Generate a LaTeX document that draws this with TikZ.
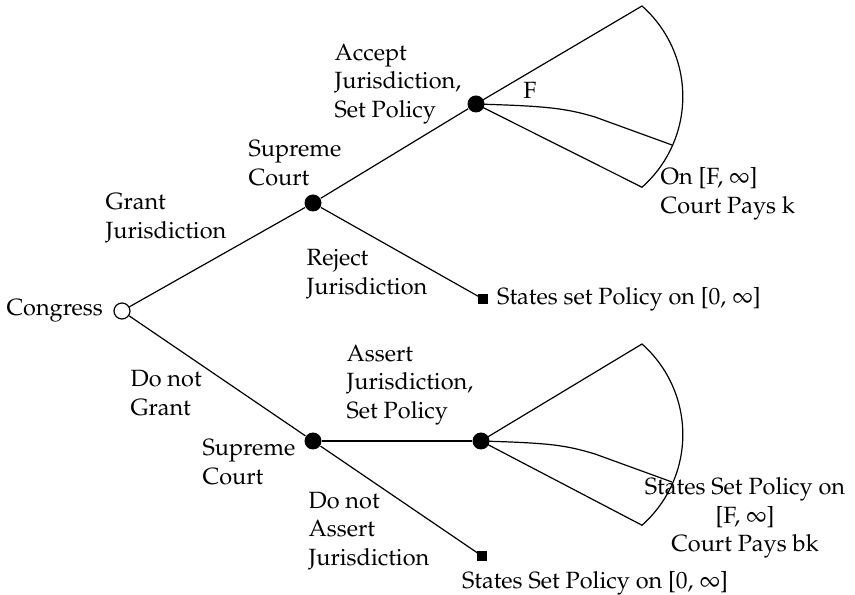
\documentclass[tikz,border=0pt]{standalone}
\usepackage[T1]{fontenc}
\usepackage{mathpazo}
\usetikzlibrary{positioning}

\tikzset{
  decision/.style={circle, fill=black, inner sep=0pt, minimum size=17pt},
  inicio/.style={circle, draw=black, fill=white, inner sep=0pt, minimum size=16pt},
  final/.style={rectangle, fill=black, inner sep=0pt, minimum size=10pt},
  etiqueta/.style={inner sep=0pt, align=left, anchor=west, font=\fontsize{23.5}{28.5}\selectfont},
}

\begin{document}
\begin{tikzpicture}[x=1pt, y=1pt, line width=1.2pt]
    \useasboundingbox (0,0) rectangle (855,595);

    % Nodos del juego
    \node[inicio] (cong) at (122,284) {};
    \node[decision] (scA) at (313,392) {};
    \node[decision] (accA) at (476,491) {};
    \node[final] (sqA) at (483,296) {};
    \node[decision] (scB) at (313,154) {};
    \node[decision] (accB) at (481,154) {};
    \node[final] (sqB) at (482,39) {};

    % Ramas
    \draw (cong) -- (scA);
    \draw (cong) -- (scB);
    \draw (scA) -- (accA);
    \draw (scA) -- (sqA.center);
    \draw (scB) -- (accB);
    \draw (scB) -- (sqB.center);

    % Abanico superior
    \coordinate (fanAt) at (642,589);
    \coordinate (fanAm) at (672,450);
    \draw (accA.center) -- (fanAt) arc[start angle=48.5, end angle=-48.5, radius=121] -- (accA.center);
    \draw (accA.center) .. controls (545,489) and (565,487) .. (595,478) -- (fanAm);

    % Abanico inferior
    \coordinate (fanBt) at (642,251);
    \coordinate (fanBm) at (672,113);
    \draw (accB.center) -- (fanBt) arc[start angle=48.5, end angle=-48.5, radius=121] -- (accB.center);
    \draw (accB.center) .. controls (550,152) and (565,150) .. (595,141) -- (fanBm);

    % Etiquetas
    \node[etiqueta, anchor=east, left=10pt of cong] (congTxt) {Congress};
    \node[etiqueta] (grantTxt) at (105,377) {Grant\\Jurisdiction};
    \node[etiqueta] (supATxt) at (248,432) {Supreme\\Court};
    \node[etiqueta] (acceptTxt) at (334,511) {Accept\\Jurisdiction,\\Set Policy};
    \node[etiqueta] (rejectTxt) at (306,321) {Reject\\Jurisdiction};
    \node[etiqueta, right=8pt of sqA] (statesATxt) {States set Policy on [0, $\infty$]};
    \node[etiqueta, anchor=center] (fTxt) at (530,505) {F};
    \node[etiqueta] (onTxt) at (660,401) {On [F, $\infty$]\\Court Pays k};
    \node[etiqueta] (dngTxt) at (130,202) {Do not\\Grant};
    \node[etiqueta] (supBTxt) at (202,133) {Supreme\\Court};
    \node[etiqueta] (assertTxt) at (346,210) {Assert\\Jurisdiction,\\Set Policy};
    \node[etiqueta] (dnaTxt) at (308,64) {Do not\\Assert\\Jurisdiction};
    \node[etiqueta, align=center, anchor=center] (statesBTxt) at (745,77) {States Set Policy on\\{[F, $\infty$]}\\Court Pays bk};
    \node[etiqueta, anchor=center] (statesCTxt) at (595,12) {States Set Policy on [0, $\infty$]};
\end{tikzpicture}
\end{document}
